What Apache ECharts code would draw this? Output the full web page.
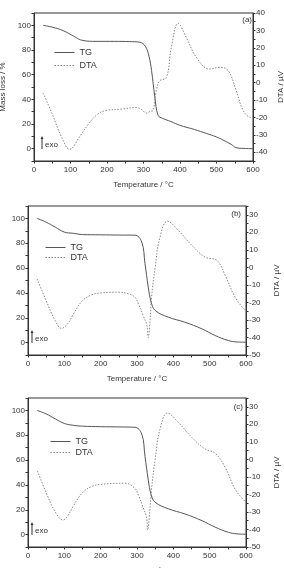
<!DOCTYPE html>
<html lang="en">
<head>
  <meta charset="UTF-8">
  <title>TG / DTA</title>
  <style>
    html, body { margin: 0; padding: 0; background: #fff; }
    #chart { width: 284px; height: 568px; }
  </style>
</head>
<body>
  <div id="chart"></div>
  <script src="https://cdn.jsdelivr.net/npm/echarts@6/dist/echarts.min.js"></script>
  <script>
    // panel (a)
    var tempATG = [25, 50, 80, 110, 134, 170, 220, 262, 290, 305, 315, 322, 331, 340, 353, 375, 399, 440, 472, 500, 518, 540, 554, 575, 600];
    var tgA = [100, 98.5, 95.7, 91, 87.7, 87, 87, 86.8, 86.3, 83, 75, 63.5, 42, 27, 24.5, 22, 19, 15.5, 12.4, 9.5, 7, 3.5, 0.8, 0.2, 0];
    var tempADTA = [25, 50, 75, 98, 125, 150, 175, 198, 240, 280, 295, 308, 318, 326, 335, 344, 363, 376, 395, 417, 445, 481, 509, 532, 554, 573, 591, 600];
    var dtaA = [-6, -18, -31, -38.3, -31, -23.6, -18, -16, -15.2, -14.3, -15.5, -17.5, -16.5, -16, -4.6, 1, 3, 20, 34, 26, 14.5, 7.8, 8.8, 6.9, -4.6, -16, -19.8, -20];

    // panel (b)
    var tempBTG = [25, 50, 75, 100, 125, 150, 200, 250, 294, 313, 322, 331, 339, 350, 386, 432, 479, 515, 552, 575, 600];
    var tgB = [100, 97, 93, 89, 88, 87, 86.8, 86.6, 86.5, 81, 63.6, 44.7, 32.6, 25.9, 20.5, 16.4, 11, 5.7, 1.6, 0.5, 0.3];
    var tempBDTA = [25, 50, 75, 92, 110, 125, 150, 175, 200, 250, 275, 294, 304, 317, 327, 331, 336, 340, 350, 363, 384, 414, 451, 488, 520, 543, 570, 598];
    var dtaB = [-6.6, -19, -30.4, -34.8, -32, -26.6, -19, -15.7, -14.6, -14.2, -15, -17, -20.9, -27.5, -33, -40, -30, -17, 0, 17, 26.3, 21, 12.5, 5.8, 3.9, -4.7, -17, -24.7];

    // panel (c)
    var tempCTG = [25, 50, 75, 100, 125, 150, 200, 250, 294, 313, 322, 331, 339, 350, 386, 432, 479, 515, 552, 575, 600];
    var tgC = [100, 97.2, 93.2, 89.5, 88, 87.3, 86.9, 86.7, 86.4, 81, 63, 44, 32, 26, 20.8, 16.6, 11.2, 6, 1.8, 0.6, 0.3];
    var tempCDTA = [26, 50, 75, 96, 110, 125, 150, 175, 200, 267, 294, 304, 317, 326, 329.5, 335, 340, 350, 363, 384, 414, 451, 488, 515, 543, 570, 598];
    var dtaC = [-6.6, -19, -30, -34.6, -32, -26.5, -19, -15.5, -14.3, -13.6, -16.5, -20.5, -27.5, -33, -40.3, -30, -17, 0, 17, 26.4, 21, 12.5, 5.8, 3.5, -4.7, -17, -24.1];

    var xLabels = [0, 100, 200, 300, 400, 500, 600];
    var massLabels = [0, 20, 40, 60, 80, 100];
    var dtaLabelsA = [-40, -30, -20, -10, 0, 10, 20, 30, 40];
    var dtaLabelsB = [-50, -40, -30, -20, -10, 0, 10, 20, 30];

    function pairs(xs, ys) {
      return xs.map(function (x, i) { return [x, ys[i]]; });
    }

    var font = 'Liberation Sans, Arial, sans-serif';
    var ink = '#333';

    var grids = [
      { left: 34, right: 31, top: 13, height: 148 },
      { left: 28, right: 38, top: 206, height: 149 },
      { left: 28, right: 38, top: 398, height: 149 }
    ];

    function xAxis(i) {
      return {
        type: 'value', gridIndex: i, min: 0, max: 600, interval: 50,
        name: 'Temperature / \u00B0C', nameLocation: 'middle', nameGap: 20,
        nameTextStyle: { fontFamily: font, fontSize: 8, color: ink },
        axisLine: { show: true, onZero: false, lineStyle: { color: ink, width: 1 } },
        axisTick: { show: true, length: 2.5, lineStyle: { color: ink } },
        axisLabel: { customValues: xLabels, margin: 5, fontFamily: font, fontSize: 8, color: ink },
        splitLine: { show: false }
      };
    }

    function massAxis(i, gap) {
      return {
        type: 'value', gridIndex: i, position: 'left', min: -10, max: 110, interval: 10,
        name: 'Mass loss / %', nameLocation: 'middle', nameGap: gap, nameRotate: 90,
        nameTextStyle: { fontFamily: font, fontSize: 8, color: ink },
        axisLine: { show: true, onZero: false, lineStyle: { color: ink, width: 1 } },
        axisTick: { show: true, length: 2.5, lineStyle: { color: ink } },
        axisLabel: { customValues: massLabels, margin: 3, fontFamily: font, fontSize: 8, color: ink },
        splitLine: { show: false }
      };
    }

    function dtaAxis(i, min, max, labels, gap) {
      return {
        type: 'value', gridIndex: i, position: 'right', min: min, max: max, interval: 5,
        name: 'DTA / \u00B5V', nameLocation: 'middle', nameGap: gap, nameRotate: 90,
        nameMoveOverlap: false,
        nameTextStyle: { fontFamily: font, fontSize: 8, color: ink },
        axisLine: { show: true, onZero: false, lineStyle: { color: ink, width: 1 } },
        axisTick: { show: true, length: 2.5, lineStyle: { color: ink } },
        axisLabel: { customValues: labels, margin: 3, fontFamily: font, fontSize: 8, color: ink },
        splitLine: { show: false }
      };
    }

    function tgSeries(i, xs, ys) {
      return {
        name: 'TG', type: 'line', xAxisIndex: i, yAxisIndex: i * 2,
        data: pairs(xs, ys), symbol: 'none', smooth: 0.4,
        lineStyle: { color: '#555', width: 1 }, itemStyle: { color: '#555' }
      };
    }

    function dtaSeries(i, xs, ys) {
      return {
        name: 'DTA', type: 'line', xAxisIndex: i, yAxisIndex: i * 2 + 1,
        data: pairs(xs, ys), symbol: 'none', smooth: 0.4,
        lineStyle: { color: '#888', width: 1, type: [1.5, 1.5] }, itemStyle: { color: '#888' }
      };
    }

    function legend(left, top, gap) {
      return {
        data: ['TG', 'DTA'], orient: 'vertical', left: left, top: top,
        itemWidth: 20, itemHeight: 10, itemGap: gap,
        itemStyle: { opacity: 0 },
        lineStyle: { width: 1 },
        textStyle: { fontFamily: font, fontSize: 9, color: ink }
      };
    }

    function exo(x, y) {
      return [
        { type: 'line', shape: { x1: x, y1: y + 13, x2: x, y2: y + 2 }, style: { stroke: ink, lineWidth: 1 } },
        { type: 'polygon', shape: { points: [[x - 1.5, y + 3], [x + 1.5, y + 3], [x, y]] }, style: { fill: ink } },
        { type: 'text', x: x + 3, y: y + 9, style: { text: 'exo', font: '8px ' + font, fill: ink, verticalAlign: 'middle' } }
      ];
    }

    function tag(label, x, y) {
      return { type: 'text', x: x, y: y, style: { text: label, font: '8px ' + font, fill: ink, align: 'right', verticalAlign: 'middle' } };
    }

    var chart = echarts.init(document.getElementById('chart'), null, { renderer: 'canvas' });

    chart.setOption({
      animation: false,
      backgroundColor: '#fff',
      grid: grids.map(function (g) {
        return Object.assign({ show: true, borderColor: ink, borderWidth: 1, backgroundColor: 'transparent', containLabel: false, outerBoundsMode: 'none' }, g);
      }),
      xAxis: [xAxis(0), xAxis(1), xAxis(2)],
      yAxis: [
        massAxis(0, 26), dtaAxis(0, -45, 40, dtaLabelsA, 24),
        massAxis(1, 25), dtaAxis(1, -50, 35, dtaLabelsB, 27),
        massAxis(2, 25), dtaAxis(2, -50, 35, dtaLabelsB, 27)
      ],
      legend: [legend(49, 43, 4), legend(40, 238, 1), legend(45, 432, 2)],
      graphic: [].concat(
        exo(42, 136), exo(32, 330), exo(32, 522),
        [tag('(a)', 252, 20), tag('(b)', 241, 214), tag('(c)', 243, 407)]
      ),
      series: [
        tgSeries(0, tempATG, tgA), dtaSeries(0, tempADTA, dtaA),
        tgSeries(1, tempBTG, tgB), dtaSeries(1, tempBDTA, dtaB),
        tgSeries(2, tempCTG, tgC), dtaSeries(2, tempCDTA, dtaC)
      ]
    });
  </script>
</body>
</html>
